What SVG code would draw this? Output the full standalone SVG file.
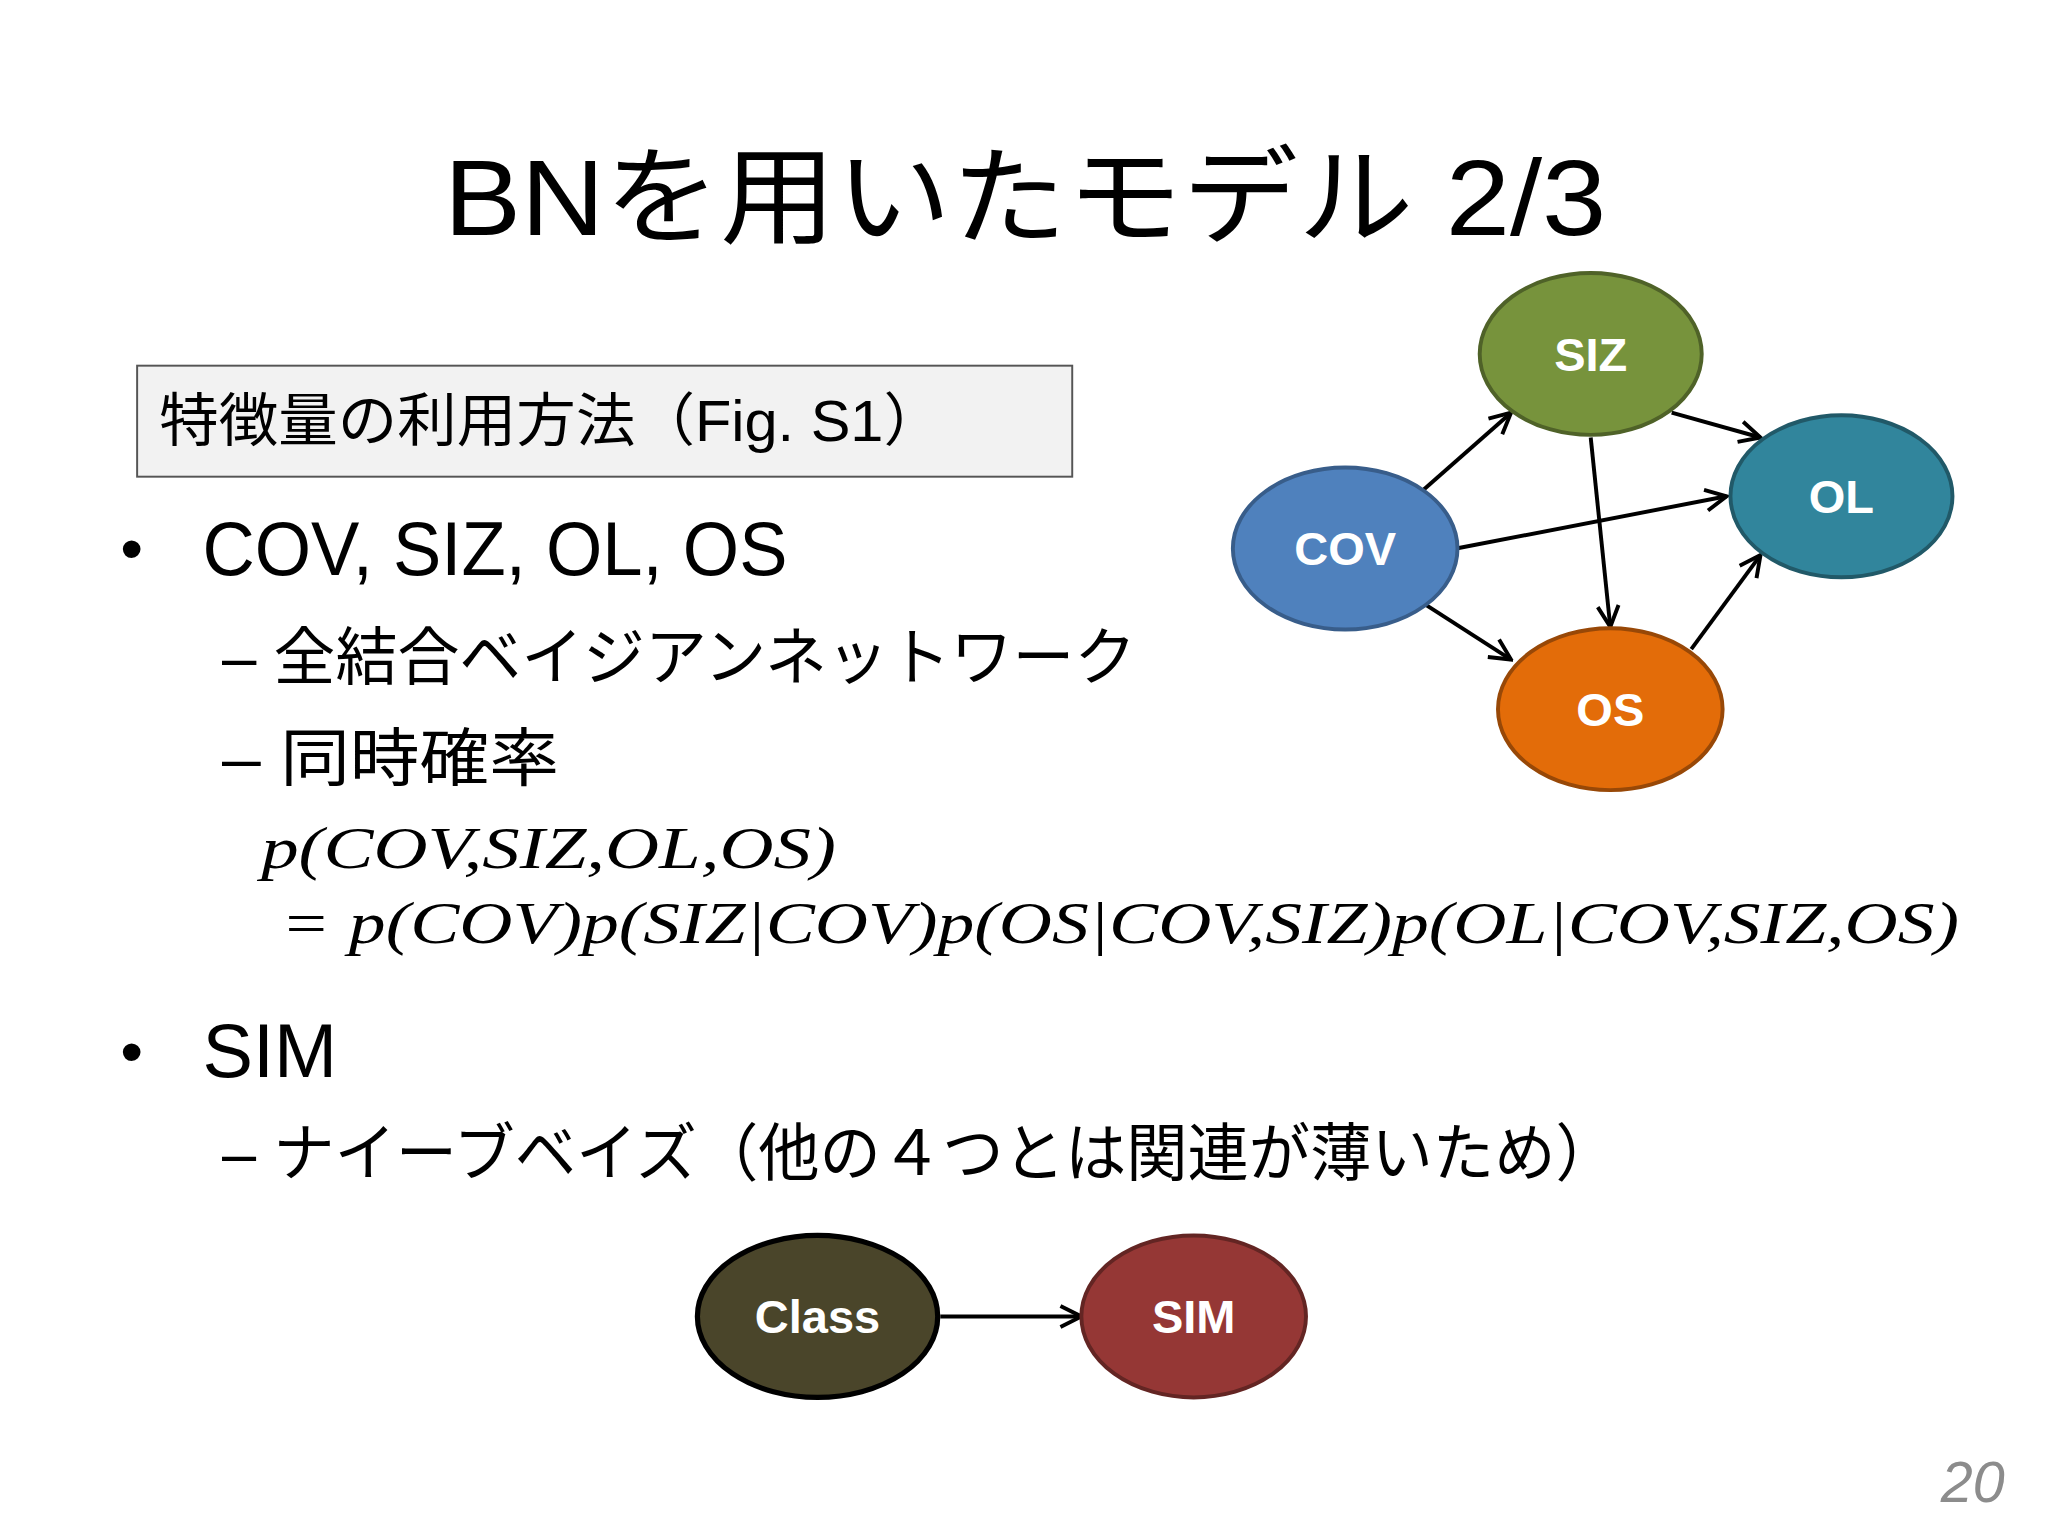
<svg xmlns="http://www.w3.org/2000/svg" width="2048" height="1536" viewBox="0 0 2048 1536">
<defs>
<marker id="ah" viewBox="0 0 20 20" refX="18" refY="10" markerWidth="20" markerHeight="20" markerUnits="userSpaceOnUse" orient="auto"><path d="M2,2 L18,10 L2,18" fill="none" stroke="#000" stroke-width="3"/></marker>
<style>
.t{font-family:"Liberation Sans","Noto Sans CJK JP",sans-serif;fill:#000}
.m{font-family:"Liberation Serif","Noto Sans CJK JP",serif;font-style:italic;font-size:46px;fill:#000}
.n{font-family:"Liberation Sans",sans-serif;font-weight:bold;font-size:36px;fill:#fff;text-anchor:middle}
.c line{stroke:#000;stroke-width:3;marker-end:url(#ah)}
</style>
</defs>
<rect width="2048" height="1536" fill="#fff"/>
<g transform="scale(1.306)">
<text class="t" x="340" y="180" font-size="82" textLength="890" lengthAdjust="spacingAndGlyphs">BNを用いたモデル 2/3</text>
<g id="box"><rect x="105" y="280" width="716" height="85" fill="#f2f2f2" stroke="#555" stroke-width="1.5"/>
<text class="t" x="122" y="338" font-size="44" textLength="600" lengthAdjust="spacingAndGlyphs">特徴量の利用方法（Fig. S1）</text></g>
<text class="t" x="92" y="437" font-size="50">•</text>
<text class="t" x="155" y="440" font-size="58" textLength="448" lengthAdjust="spacingAndGlyphs">COV, SIZ, OL, OS</text>
<text class="t" x="170" y="520" font-size="48" textLength="700" lengthAdjust="spacingAndGlyphs">–  全結合ベイジアンネットワーク</text>
<text class="t" x="170" y="597" font-size="48" textLength="258" lengthAdjust="spacingAndGlyphs">–  同時確率</text>
<text class="m" x="200" y="665" textLength="440" lengthAdjust="spacingAndGlyphs">p(COV,SIZ,OL,OS)</text>
<text class="m" x="215" y="722" textLength="1285" lengthAdjust="spacingAndGlyphs">= p(COV)p(SIZ|COV)p(OS|COV,SIZ)p(OL|COV,SIZ,OS)</text>
<text class="t" x="92" y="822" font-size="50">•</text>
<text class="t" x="155" y="825" font-size="58">SIM</text>
<text class="t" x="170" y="900" font-size="48" textLength="1068" lengthAdjust="spacingAndGlyphs">–  ナイーブベイズ（他の４つとは関連が薄いため）</text>
<g class="c" id="connectors">
<line x1="1090" y1="375" x2="1157" y2="316"/>
<line x1="1280" y1="316" x2="1348" y2="335"/>
<line x1="1115" y1="420" x2="1322" y2="380"/>
<line x1="1218" y1="335" x2="1233" y2="480"/>
<line x1="1090" y1="462" x2="1157" y2="505"/>
<line x1="1295" y1="497" x2="1348" y2="425"/>
<line x1="720" y1="1008" x2="828" y2="1008"/>
</g>
<g id="SIZ"><ellipse cx="1218" cy="271" rx="85" ry="62" fill="#77933c" stroke="#4f6228" stroke-width="3"/><text class="n" x="1218" y="284">SIZ</text></g>
<g id="OL"><ellipse cx="1410" cy="380" rx="85" ry="62" fill="#31859c" stroke="#215968" stroke-width="3"/><text class="n" x="1410" y="393">OL</text></g>
<g id="COV"><ellipse cx="1030" cy="420" rx="86" ry="62" fill="#4f81bd" stroke="#385d8a" stroke-width="3"/><text class="n" x="1030" y="433">COV</text></g>
<g id="OS"><ellipse cx="1233" cy="543" rx="86" ry="62" fill="#e36c09" stroke="#984807" stroke-width="3"/><text class="n" x="1233" y="556">OS</text></g>
<g id="Class"><ellipse cx="626" cy="1008" rx="92" ry="62" fill="#4a452a" stroke="#000" stroke-width="4"/><text class="n" x="626" y="1021">Class</text></g>
<g id="SIM"><ellipse cx="914" cy="1008" rx="86" ry="62" fill="#953735" stroke="#632523" stroke-width="3"/><text class="n" x="914" y="1021">SIM</text></g>
<text x="1535" y="1150" font-family="Liberation Sans,sans-serif" font-style="italic" font-size="44" fill="#8c8c8c" text-anchor="end">20</text>
</g>
</svg>
